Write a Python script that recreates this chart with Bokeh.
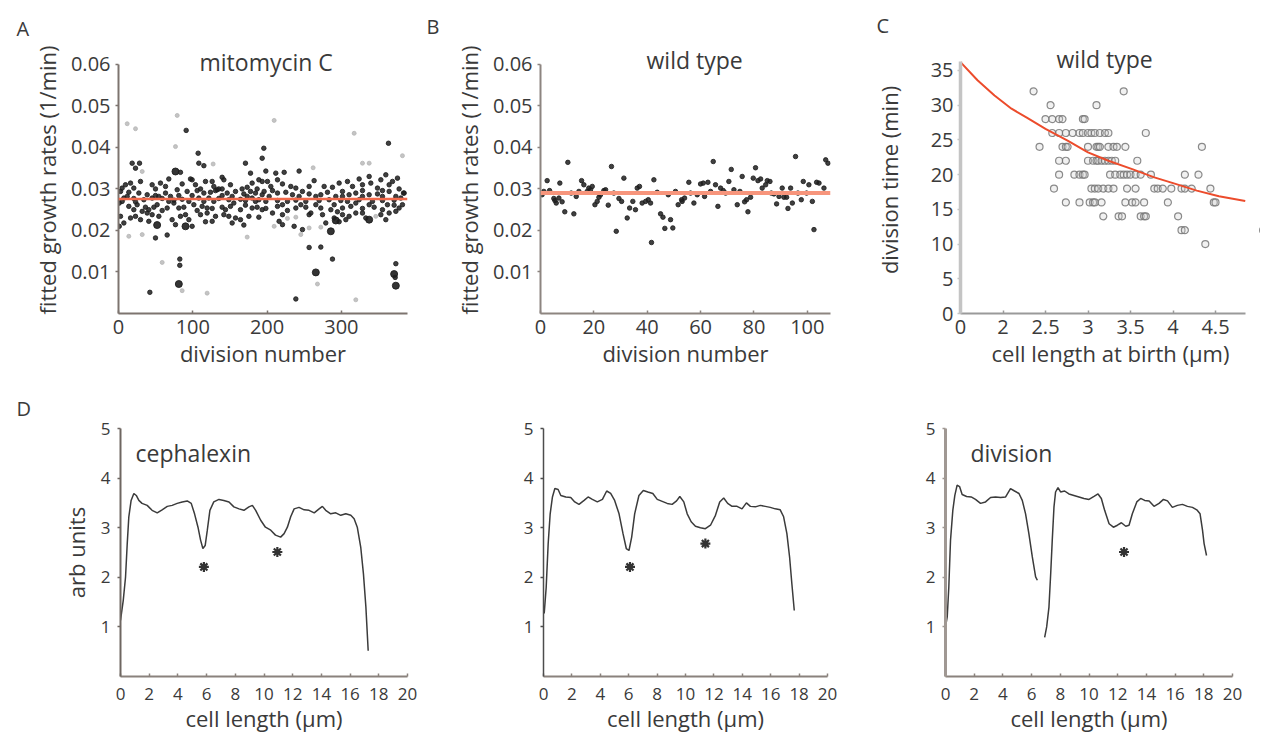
from bokeh.plotting import figure
from bokeh.layouts import column, row
from bokeh.models import Label, Span, FixedTicker, Range1d, Title
from bokeh.embed import file_html
from bokeh.resources import INLINE

FONT = "Open Sans"
TXT = "#3a3a3a"

# ---------------- data: panel A (mitomycin C) ----------------
mito_dark = [
    (91.1, 0.0441), (107.2, 0.0386), (18.4, 0.0362), (28.3, 0.0362), (108.1, 0.0362), (114.9, 0.0356),
    (170.9, 0.0362), (22.9, 0.035), (83.4, 0.034), (177.7, 0.0338), (139.5, 0.0328), (96.9, 0.0324),
    (67.7, 0.0324), (195.6, 0.0398), (193.4, 0.0374),
    (4.9, 0.0302), (16.2, 0.0314), (29.6, 0.0318), (45.3, 0.031), (56.5, 0.0314), (85.7, 0.0312),
    (99.1, 0.0322), (103.6, 0.031), (117.1, 0.0318), (126.1, 0.0318), (132.8, 0.0298), (141.8, 0.0322),
    (150.7, 0.031), (166.4, 0.03), (179.9, 0.0314), (188.9, 0.0322), (193.4, 0.0318),
    (9.4, 0.031), (20.6, 0.0302), (49.8, 0.03), (63.3, 0.0306), (79.0, 0.0298), (110.4, 0.03),
    (128.3, 0.0306), (139.5, 0.03), (173.2, 0.0304), (186.6, 0.03),
    (2.7, 0.0294), (13.9, 0.0292), (27.4, 0.029), (38.6, 0.0286), (49.8, 0.0284), (63.3, 0.029),
    (70.0, 0.0282), (92.4, 0.0294), (105.9, 0.0296), (114.9, 0.029), (123.8, 0.0292), (130.6, 0.0296),
    (135.0, 0.03), (146.3, 0.029), (157.5, 0.0294), (168.7, 0.0288), (177.7, 0.0294), (184.4, 0.029),
    (193.4, 0.0286), (11.7, 0.0282), (54.3, 0.0282), (81.2, 0.0284), (99.1, 0.0284), (139.5, 0.0284),
    (153.0, 0.0282), (173.2, 0.0282),
    (7.2, 0.0278), (20.6, 0.0277), (34.1, 0.0274), (45.3, 0.0278), (58.8, 0.0277), (74.5, 0.0273),
    (85.7, 0.0275), (108.1, 0.0278), (121.6, 0.0278), (135.0, 0.0277), (148.5, 0.0274), (164.2, 0.0275),
    (179.9, 0.0278), (188.9, 0.0274),
    (4.9, 0.027), (22.9, 0.0269), (67.7, 0.027), (94.7, 0.027), (114.9, 0.027), (128.3, 0.027),
    (170.9, 0.0272), (184.4, 0.027),
    (1.0, 0.0266), (13.9, 0.0258), (25.1, 0.0262), (36.3, 0.0256), (40.8, 0.025), (52.0, 0.0262),
    (65.5, 0.0254), (74.5, 0.0266), (87.9, 0.0256), (101.4, 0.0262), (112.6, 0.0258), (119.3, 0.0254),
    (139.5, 0.0256), (144.0, 0.025), (155.2, 0.0266), (170.9, 0.0261), (179.9, 0.0254), (193.4, 0.025),
    (20.6, 0.025), (31.9, 0.0246), (47.6, 0.0256), (81.2, 0.0254), (105.9, 0.0248), (126.1, 0.0253),
    (150.7, 0.0258), (164.2, 0.025), (186.6, 0.0256),
    (2.7, 0.0234), (16.2, 0.023), (38.6, 0.0242), (45.3, 0.0238), (58.8, 0.0248), (72.2, 0.0226),
    (90.2, 0.0238), (94.7, 0.0226), (119.3, 0.0242), (130.6, 0.0234), (148.5, 0.0234), (157.5, 0.023),
    (164.2, 0.0226), (188.9, 0.0232), (22.9, 0.0234), (54.3, 0.0234), (83.4, 0.0234), (110.4, 0.0238),
    (141.8, 0.0238), (175.5, 0.0234),
    (7.2, 0.0218), (29.6, 0.0226), (40.8, 0.0222), (76.7, 0.0214), (99.1, 0.021), (117.1, 0.0221),
    (126.1, 0.0222), (153.0, 0.0218), (168.7, 0.0213), (1.0, 0.021),
    (49.8, 0.0182), (65.5, 0.0189), (82.5, 0.0131), (82.5, 0.0116), (42.2, 0.0051),
    (363.4, 0.041), (198.3, 0.0343), (243.1, 0.0343),
    (211.7, 0.0338), (223.0, 0.034), (263.3, 0.032), (214.0, 0.0322), (200.5, 0.0318), (220.7, 0.0312),
    (231.9, 0.0306), (247.6, 0.0294), (276.8, 0.0306), (288.0, 0.0304), (301.5, 0.0294), (308.2, 0.0318),
    (323.9, 0.0324), (337.4, 0.033), (339.6, 0.0314), (353.1, 0.0322), (359.8, 0.0334), (364.3, 0.031),
    (375.5, 0.0326), (348.6, 0.0302), (355.3, 0.0296), (377.7, 0.03), (384.5, 0.029),
    (205.0, 0.0306), (238.7, 0.0302), (256.6, 0.0306), (297.0, 0.0314), (315.0, 0.0306), (328.4, 0.031),
    (368.8, 0.0318),
    (196.0, 0.0294), (207.3, 0.0296), (214.0, 0.029), (225.2, 0.0292), (234.2, 0.0286), (256.6, 0.0288),
    (265.6, 0.0282), (272.3, 0.0286), (281.3, 0.0292), (292.5, 0.0282), (310.4, 0.0286), (319.4, 0.029),
    (328.4, 0.0296), (337.4, 0.0286), (348.6, 0.0288), (364.3, 0.0294), (373.3, 0.0282),
    (202.8, 0.0282), (243.1, 0.0282), (301.5, 0.0282), (328.4, 0.0282), (355.3, 0.0282), (380.0, 0.0278),
    (198.3, 0.027), (214.0, 0.0272), (227.4, 0.027), (238.7, 0.0273), (252.1, 0.027), (270.1, 0.0272),
    (283.5, 0.0274), (299.2, 0.0272), (308.2, 0.027), (323.9, 0.0274), (341.8, 0.027), (355.3, 0.0272),
    (371.0, 0.0273), (383.6, 0.029),
    (220.7, 0.0262), (245.4, 0.0262), (265.6, 0.0262), (290.3, 0.0262), (319.4, 0.0266), (337.4, 0.0262),
    (371.0, 0.0261),
    (198.3, 0.0253), (214.0, 0.0258), (227.4, 0.0248), (238.7, 0.0254), (252.1, 0.0256), (258.9, 0.0242),
    (272.3, 0.0254), (285.8, 0.025), (294.7, 0.0245), (301.5, 0.0254), (312.7, 0.0258), (328.4, 0.0253),
    (344.1, 0.0256), (355.3, 0.025), (362.0, 0.0262), (377.7, 0.0254), (382.2, 0.0262),
    (207.3, 0.0242), (220.7, 0.0238), (274.6, 0.0238), (301.5, 0.0238), (319.4, 0.0242), (353.1, 0.0238),
    (373.3, 0.0246),
    (256.6, 0.0238), (290.3, 0.023), (310.4, 0.0234), (328.4, 0.0242), (364.3, 0.0242),
    (216.2, 0.0222), (279.0, 0.0218), (306.0, 0.0226), (332.9, 0.023), (359.8, 0.0226),
    (220.7, 0.0214), (236.4, 0.021), (247.6, 0.0202), (297.0, 0.0221),
    (256.6, 0.0159), (272.3, 0.016), (288.0, 0.0131), (373.3, 0.012), (372.4, 0.0087), (238.7, 0.0035),
]
mito_big = [
    (52.0, 0.0213), (90.2, 0.021), (81.2, 0.0071), (76.7, 0.0342), (292.5, 0.0224), (337.4, 0.0226),
    (285.8, 0.0198), (265.6, 0.0099), (371.0, 0.0095), (373.3, 0.0067),
]
mito_faint = [
    (79.0, 0.0477), (11.7, 0.0457), (22.9, 0.0445), (76.7, 0.0402), (127.4, 0.036), (31.9, 0.0342),
    (13.9, 0.0186), (31.9, 0.019), (173.2, 0.0184), (58.8, 0.0123), (85.7, 0.0055), (119.3, 0.0049),
    (209.5, 0.0465), (317.2, 0.0434), (382.2, 0.038), (328.4, 0.0362), (337.4, 0.0362), (262.0, 0.0351),
    (227.4, 0.0229), (238.7, 0.0232), (346.3, 0.0234), (209.5, 0.021), (256.6, 0.0206), (272.3, 0.0208),
    (245.4, 0.019), (267.8, 0.0071), (319.4, 0.0033),
]
mito_mean = 0.0276

# ---------------- data: panel B (wild type growth rates) ----------------
wt_div = [0.6, 1.25, 2.5, 3.4, 5.0, 5.4, 5.9, 6.9, 7.25, 8.1, 9.1, 10.25, 11.5, 12.5, 13.4, 14.4, 15.4,
          16.25, 17.5, 18.1, 18.75, 19.4, 20.4, 21.25, 21.9, 22.5, 23.75, 24.4, 25.4, 26.6, 27.5, 28.4,
          29.4, 30.4, 31.25, 32.5, 33.4, 34.6, 35.6, 36.25, 37.1, 38.1, 39.4, 40.4, 41.25, 41.6, 42.5,
          43.75, 45.0, 45.9, 46.6, 47.9, 48.75, 49.6, 50.6, 51.6, 52.9,
          53.1, 54.0, 55.6, 56.25, 57.5, 58.75, 60.0, 61.0, 61.5, 62.75, 63.75, 64.75, 65.6, 66.5, 67.5,
          68.5, 69.4, 70.6, 71.5, 72.5, 73.75, 74.75, 75.6, 76.5, 77.25, 77.75, 78.75, 79.75, 80.6, 81.5,
          82.5, 83.1, 84.4, 85.0, 86.0, 86.5, 87.5, 88.5, 89.4, 90.6, 91.25, 92.25, 92.75, 93.75, 94.4,
          95.6, 96.5, 97.75, 98.5, 99.75, 100.6, 101.9, 102.5, 103.5, 104.4, 106.25, 106.9, 107.75]
wt_rate = [0.0286, 0.0294, 0.032, 0.0296, 0.0277, 0.0272, 0.0266, 0.0278, 0.0314, 0.0269, 0.0245, 0.0364,
           0.029, 0.024, 0.0282, 0.0294, 0.032, 0.031, 0.0294, 0.0302, 0.0298, 0.0306, 0.0262, 0.027,
           0.028, 0.0286, 0.0296, 0.0298, 0.0261, 0.0354, 0.029, 0.0198, 0.0277, 0.027, 0.0326, 0.023,
           0.0254, 0.027, 0.025, 0.0302, 0.0306, 0.0266, 0.027, 0.0274, 0.0266, 0.0171, 0.0322, 0.0292,
           0.024, 0.0232, 0.0205, 0.0286, 0.0226, 0.0206, 0.0294, 0.0262, 0.0274,
           0.027, 0.0278, 0.0316, 0.029, 0.0266, 0.0286, 0.0312, 0.0314, 0.0282, 0.0316, 0.0294, 0.0366,
           0.031, 0.0258, 0.0302, 0.0296, 0.029, 0.0318, 0.0347, 0.0298, 0.0262, 0.0294, 0.033, 0.0269,
           0.0274, 0.0245, 0.028, 0.0326, 0.0351, 0.032, 0.0324, 0.0302, 0.031, 0.032, 0.0318, 0.029,
           0.0288, 0.0264, 0.0282, 0.0302, 0.028, 0.028, 0.0253, 0.0302, 0.0266, 0.0378, 0.029, 0.0274,
           0.0318, 0.029, 0.031, 0.027, 0.0202, 0.0316, 0.0314, 0.0302, 0.037, 0.0362]
wt_mean = 0.0290

# ---------------- data: panel C (division time vs birth length) ----------------
birth_pts = [
    (2.36, 32), (2.56, 30), (3.1, 30), (3.42, 32),
    (2.5, 28), (2.58, 28), (2.66, 28), (2.7, 28), (2.94, 28), (2.96, 28),
    (2.58, 26), (2.66, 26), (2.74, 26), (2.82, 26), (2.9, 26), (2.94, 26), (3.0, 26), (3.04, 26),
    (3.08, 26), (3.14, 26), (3.2, 26), (3.24, 26), (3.68, 26),
    (2.43, 24), (2.7, 24), (2.74, 24), (2.76, 24), (3.0, 24), (3.1, 24), (3.12, 24), (3.14, 24),
    (3.24, 24), (3.3, 24), (3.34, 24), (3.44, 24), (4.34, 24),
    (2.66, 22), (2.74, 22), (3.0, 22), (3.06, 22), (3.1, 22), (3.12, 22), (3.16, 22), (3.2, 22),
    (3.24, 22), (3.28, 22), (3.32, 22), (3.58, 22),
    (2.66, 20), (2.84, 20), (2.9, 20), (2.94, 20), (2.96, 20), (3.26, 20), (3.32, 20), (3.38, 20),
    (3.42, 20), (3.46, 20), (3.5, 20), (3.56, 20), (3.62, 20), (3.74, 20), (4.14, 20), (4.3, 20),
    (2.6, 18), (3.04, 18), (3.08, 18), (3.12, 18), (3.18, 18), (3.24, 18), (3.3, 18), (3.46, 18),
    (3.56, 18), (3.78, 18), (3.82, 18), (3.88, 18), (3.98, 18), (4.1, 18), (4.14, 18), (4.22, 18), (4.44, 18),
    (2.74, 16), (2.9, 16), (3.02, 16), (3.06, 16), (3.08, 16), (3.16, 16), (3.44, 16), (3.52, 16),
    (3.56, 16), (3.66, 16), (3.94, 16), (4.48, 16), (4.5, 16),
    (3.18, 14), (3.36, 14), (3.4, 14), (3.62, 14), (3.66, 14), (3.68, 14), (4.06, 14),
    (4.1, 12), (4.14, 12), (5.06, 12), (4.38, 10),
]
fit_len = [1.5, 1.7, 1.9, 2.1, 2.28, 2.5, 2.76, 3.0, 3.24, 3.52, 3.78, 4.02, 4.28, 4.54, 4.85]
fit_time = [36.2, 33.6, 31.4, 29.5, 28.2, 26.6, 24.9, 23.2, 22.0, 20.8, 19.6, 18.7, 17.7, 16.9, 16.2]
c_tick_labels = {1.5: "0", 2: "2", 2.5: "2.5", 3: "3", 3.5: "3.5", 4: "4", 4.5: "4.5"}

# ---------------- data: panel D (intensity profiles) ----------------
ceph_x = [0, 0.19, 0.35, 0.47, 0.58, 0.74, 0.93, 1.1, 1.28, 1.5, 1.86, 2.2, 2.56, 2.9, 3.26, 3.6, 3.95,
          4.3, 4.65, 4.93, 5.16, 5.4, 5.58, 5.74, 5.9, 6.05, 6.23, 6.5, 6.86, 7.2, 7.56, 7.9, 8.26, 8.6,
          8.95, 9.19, 9.42, 9.77, 10.1, 10.47, 10.8, 11.16, 11.4, 11.63, 11.86, 12.1, 12.44, 12.8, 13.14,
          13.5, 13.84, 14.07, 14.3, 14.65, 15.0, 15.35, 15.7, 16.05, 16.28, 16.5, 16.74, 16.93, 17.1, 17.26]
ceph_y = [1.13, 1.53, 2.0, 2.68, 3.22, 3.55, 3.69, 3.65, 3.55, 3.49, 3.45, 3.35, 3.3, 3.36, 3.43, 3.45,
          3.49, 3.52, 3.54, 3.49, 3.28, 3.01, 2.75, 2.58, 2.64, 2.95, 3.35, 3.52, 3.57, 3.55, 3.52, 3.42,
          3.38, 3.35, 3.42, 3.45, 3.35, 3.15, 3.01, 2.95, 2.85, 2.81, 2.88, 3.01, 3.22, 3.38, 3.41, 3.36,
          3.35, 3.3, 3.38, 3.43, 3.35, 3.28, 3.3, 3.25, 3.28, 3.25, 3.18, 3.01, 2.61, 2.07, 1.4, 0.52]
ceph_star_x = [5.81, 10.93]
ceph_star_y = [2.21, 2.51]

mid_x = [0.05, 0.19, 0.33, 0.47, 0.63, 0.8, 1.03, 1.22, 1.57, 1.92, 2.2, 2.5, 2.86, 3.14, 3.44, 3.79,
         4.15, 4.45, 4.73, 5.01, 5.32, 5.6, 5.83, 6.02, 6.21, 6.42, 6.72, 7.03, 7.35, 7.7, 8.01, 8.36,
         8.71, 9.06, 9.37, 9.6, 9.88, 10.12, 10.4, 10.7, 11.05, 11.4, 11.76, 12.11, 12.41, 12.69, 12.97,
         13.28, 13.63, 13.98, 14.29, 14.57, 14.92, 15.27, 15.62, 15.97, 16.32, 16.67, 16.91, 17.14, 17.33,
         17.49, 17.66]
mid_y = [1.27, 1.8, 2.68, 3.28, 3.62, 3.79, 3.77, 3.65, 3.62, 3.61, 3.52, 3.47, 3.55, 3.62, 3.57, 3.52,
         3.57, 3.74, 3.69, 3.55, 3.28, 2.88, 2.58, 2.54, 2.81, 3.28, 3.65, 3.75, 3.72, 3.69, 3.57, 3.53,
         3.49, 3.47, 3.54, 3.63, 3.52, 3.28, 3.12, 3.03, 3.0, 2.98, 3.05, 3.25, 3.52, 3.6, 3.49, 3.43,
         3.43, 3.38, 3.5, 3.43, 3.42, 3.45, 3.43, 3.41, 3.38, 3.36, 3.22, 2.88, 2.41, 1.87, 1.33]
mid_star_x = [6.09, 11.4]
mid_star_y = [2.21, 2.68]

div_x1 = [0, 0.12, 0.23, 0.35, 0.51, 0.65, 0.81, 0.98, 1.16, 1.47, 1.79, 2.09, 2.44, 2.79, 3.14, 3.49,
          3.84, 4.19, 4.53, 4.81, 5.12, 5.35, 5.58, 5.81, 6.05, 6.28, 6.4]
div_y1 = [1.0, 1.2, 1.8, 2.75, 3.35, 3.65, 3.86, 3.83, 3.67, 3.63, 3.62, 3.57, 3.49, 3.52, 3.61, 3.62,
          3.61, 3.62, 3.79, 3.74, 3.69, 3.55, 3.28, 2.88, 2.41, 2.01, 1.94]
div_x2 = [6.91, 7.05, 7.21, 7.33, 7.44, 7.56, 7.67, 7.84, 8.02, 8.3, 8.6, 8.95, 9.3, 9.65, 10.0, 10.35,
          10.63, 10.86, 11.09, 11.4, 11.7, 11.98, 12.26, 12.56, 12.79, 13.02, 13.33, 13.6, 13.88, 14.19,
          14.53, 14.88, 15.19, 15.47, 15.81, 16.16, 16.51, 16.86, 17.21, 17.51, 17.74, 17.91, 18.02, 18.19]
div_y2 = [0.79, 1.0, 1.4, 2.07, 2.75, 3.42, 3.72, 3.81, 3.72, 3.74, 3.68, 3.65, 3.62, 3.59, 3.57, 3.63,
          3.68, 3.59, 3.35, 3.08, 3.01, 3.05, 3.1, 3.03, 3.05, 3.28, 3.52, 3.59, 3.55, 3.54, 3.43, 3.49,
          3.57, 3.54, 3.41, 3.45, 3.47, 3.43, 3.41, 3.36, 3.28, 2.95, 2.68, 2.44]
div_star_x = [12.44]
div_star_y = [2.51]

growth_ticks = [0.01, 0.02, 0.03, 0.04, 0.05, 0.06]
profile_xticks = list(range(0, 21, 2))
profile_yticks = [1, 2, 3, 4, 5]

TICK = "20px"
AXL = "22px"
TIT = "23px"
LET = "20px"
ROW1_H = 383


# ---------------- helpers ----------------
def make(ox, oy, w, h, fr, xr, yr):
    l, t, r, b = fr
    p = figure(width=w, height=h, x_range=Range1d(*xr), y_range=Range1d(*yr),
               output_backend="svg", toolbar_location=None, tools="",
               min_border_left=l - ox, min_border_right=ox + w - r,
               min_border_top=t - oy, min_border_bottom=oy + h - b)
    p.outline_line_color = None
    p.grid.visible = False
    for ax in (p.xaxis[0], p.yaxis[0]):
        ax.major_label_text_font = FONT
        ax.major_label_text_color = TXT
        ax.axis_label_text_font = FONT
        ax.axis_label_text_color = TXT
        ax.axis_label_text_font_style = "normal"
        ax.minor_tick_line_color = None
    p.xaxis.major_label_standoff = 6
    p.xaxis.axis_label_standoff = 1
    p.yaxis.major_label_standoff = 5
    p.yaxis.axis_label_standoff = 6
    p.xaxis.major_tick_in = 3
    p.xaxis.major_tick_out = 0
    p.yaxis.major_tick_in = 0
    p.yaxis.major_tick_out = 3
    return p


def style_axis(ax, color, width):
    ax.axis_line_color = color
    ax.axis_line_width = width
    ax.major_tick_line_color = color
    ax.major_tick_line_width = 1.5


def lab(p, fr, xr, yr, px, py, text, size):
    l, t, r, b = fr
    x = xr[0] + (px - l) / (r - l) * (xr[1] - xr[0])
    y = yr[0] + (b - py) / (b - t) * (yr[1] - yr[0])
    p.add_layout(Label(x=x, y=y, text=text, text_align="left", text_baseline="middle",
                       text_font=FONT, text_font_size=size, text_color=TXT))


def letter(p, text, frame_left, px, standoff):
    p.add_layout(Title(text=text, align="left", offset=px - frame_left, standoff=standoff,
                       text_font=FONT, text_font_size=LET, text_font_style="normal",
                       text_color=TXT, vertical_align="top"), "above")


# ---------------- panel A ----------------
frA = (118, 44, 407, 313)
xrA = (0, 389)
yrA = (0, 0.06 * (313 - 44) / (313 - 62))
pA = make(0, 0, 420, ROW1_H, frA, xrA, yrA)
pA.add_layout(Span(location=mito_mean, dimension="width", line_color="#f26a4b", line_width=2.5))
pA.scatter([q[0] for q in mito_faint], [q[1] for q in mito_faint], size=4, color="#b5b5b5", alpha=0.8)
pA.scatter([q[0] for q in mito_dark], [q[1] for q in mito_dark], size=4.5, color="#1e1e1e", alpha=0.85)
pA.scatter([q[0] for q in mito_big], [q[1] for q in mito_big], size=7, color="#1e1e1e", alpha=0.9)
pA.xaxis.ticker = FixedTicker(ticks=[0, 100, 200, 300])
pA.yaxis.ticker = FixedTicker(ticks=growth_ticks)
pA.yaxis.bounds = (0, 0.06)
pA.xaxis.axis_label = "division number"
pA.yaxis.axis_label = "fitted growth rates (1/min)"
style_axis(pA.xaxis[0], "#7d746f", 2)
style_axis(pA.yaxis[0], "#7d746f", 2)
lab(pA, frA, xrA, yrA, 199, 60, "mitomycin C", TIT)
letter(pA, "A", 118, 16, 6)

# ---------------- panel B ----------------
frB = (540, 44, 830, 313)
xrB = (0, 108.7)
yrB = (0, 0.06 * (313 - 44) / (313 - 62))
pB = make(420, 0, 418, ROW1_H, frB, xrB, yrB)
pB.add_layout(Span(location=wt_mean, dimension="width", line_color="#f7957c", line_width=4))
pB.scatter(wt_div, wt_rate, size=4.5, color="#1e1e1e", alpha=0.85)
pB.xaxis.ticker = FixedTicker(ticks=[0, 20, 40, 60, 80, 100])
pB.yaxis.ticker = FixedTicker(ticks=growth_ticks)
pB.yaxis.bounds = (0, 0.06)
pB.yaxis.axis_label_standoff = 6
pB.xaxis.axis_label = "division number"
pB.yaxis.axis_label = "fitted growth rates (1/min)"
style_axis(pB.xaxis[0], "#8d8580", 2)
style_axis(pB.yaxis[0], "#8d8580", 2)
lab(pB, frB, xrB, yrB, 646, 58, "wild type", TIT)
letter(pB, "B", 540, 426, 10)

# ---------------- panel C ----------------
frC = (960, 46, 1260, 313)
xrC = (1.5, 1.5 + 300 / 85.0)
yrC = (0, (313 - 46) / 6.943)
pC = make(838, 0, 422, ROW1_H, frC, xrC, yrC)
pC.scatter([q[0] for q in birth_pts], [q[1] for q in birth_pts], size=7, marker="circle",
           fill_color="#d0d0d0", fill_alpha=0.3, line_color="#777777", line_width=1.2, line_alpha=0.85)
pC.line(fit_len, fit_time, line_color="#ec4c2c", line_width=2)
pC.xaxis.ticker = FixedTicker(ticks=list(c_tick_labels.keys()))
pC.xaxis.major_label_overrides = c_tick_labels
pC.xaxis.bounds = (1.5, 4.85)
pC.yaxis.ticker = FixedTicker(ticks=[0, 5, 10, 15, 20, 25, 30, 35])
pC.yaxis.bounds = (0, 36.3)
pC.yaxis.major_label_standoff = 4
pC.yaxis.axis_label_standoff = 24
pC.xaxis.axis_label = "cell length at birth (µm)"
pC.yaxis.axis_label = "division time (min)"
style_axis(pC.xaxis[0], "#9a9a9a", 2)
style_axis(pC.yaxis[0], "#c4c4c4", 3.5)
lab(pC, frC, xrC, yrC, 1056, 58, "wild type", TIT)
letter(pC, "C", 960, 876, 12)


# ---------------- panel D ----------------
def profile(ox, w, fr, color, width):
    xr, yr = (0, 20), (0, 5)
    p = make(ox, ROW1_H, w, 736 - ROW1_H, fr, xr, yr)
    p.xaxis.ticker = FixedTicker(ticks=profile_xticks)
    p.yaxis.ticker = FixedTicker(ticks=profile_yticks)
    p.xaxis.axis_label = "cell length (µm)"
    p.xaxis.major_label_standoff = 11
    p.xaxis.axis_label_standoff = 0
    p.yaxis.major_label_standoff = 7
    for ax in (p.xaxis[0], p.yaxis[0]):
        ax.major_label_text_font_size = "17px"
        ax.axis_label_text_font_size = AXL
    style_axis(p.xaxis[0], "#8a827d", 2)
    style_axis(p.yaxis[0], color, width)
    return p, xr, yr


frD1 = (120, 428, 407, 676)
pD1, xrD, yrD = profile(0, 420, frD1, "#6e6661", 2)
pD1.line(ceph_x, ceph_y, line_color="#3b3b3b", line_width=1.5)
pD1.scatter(ceph_star_x, ceph_star_y, marker="asterisk", size=10, line_color="#333333", line_width=2.2)
pD1.yaxis.axis_label = "arb units"
pD1.yaxis.axis_label_standoff = 7
lab(pD1, frD1, xrD, yrD, 135, 452, "cephalexin", TIT)
letter(pD1, "D", 120, 16, 10)

frD2 = (543, 428, 827, 676)
pD2, _, _ = profile(420, 418, frD2, "#4d4d4d", 1.5)
pD2.line(mid_x, mid_y, line_color="#3b3b3b", line_width=1.5)
pD2.scatter(mid_star_x, mid_star_y, marker="asterisk", size=10, line_color="#333333", line_width=2.2)

frD3 = (945, 428, 1232, 676)
pD3, _, _ = profile(838, 422, frD3, "#a09893", 3)
pD3.line(div_x1, div_y1, line_color="#3b3b3b", line_width=1.5)
pD3.line(div_x2, div_y2, line_color="#3b3b3b", line_width=1.5)
pD3.scatter(div_star_x, div_star_y, marker="asterisk", size=10, line_color="#333333", line_width=2.2)
lab(pD3, frD3, xrD, yrD, 970, 452, "division", TIT)

for p in (pA, pB, pC):
    for ax in (p.xaxis[0], p.yaxis[0]):
        ax.major_label_text_font_size = TICK
        ax.axis_label_text_font_size = AXL

layout = column(row(pA, pB, pC), row(pD1, pD2, pD3))
open("out.html", "w").write(file_html(layout, INLINE))
